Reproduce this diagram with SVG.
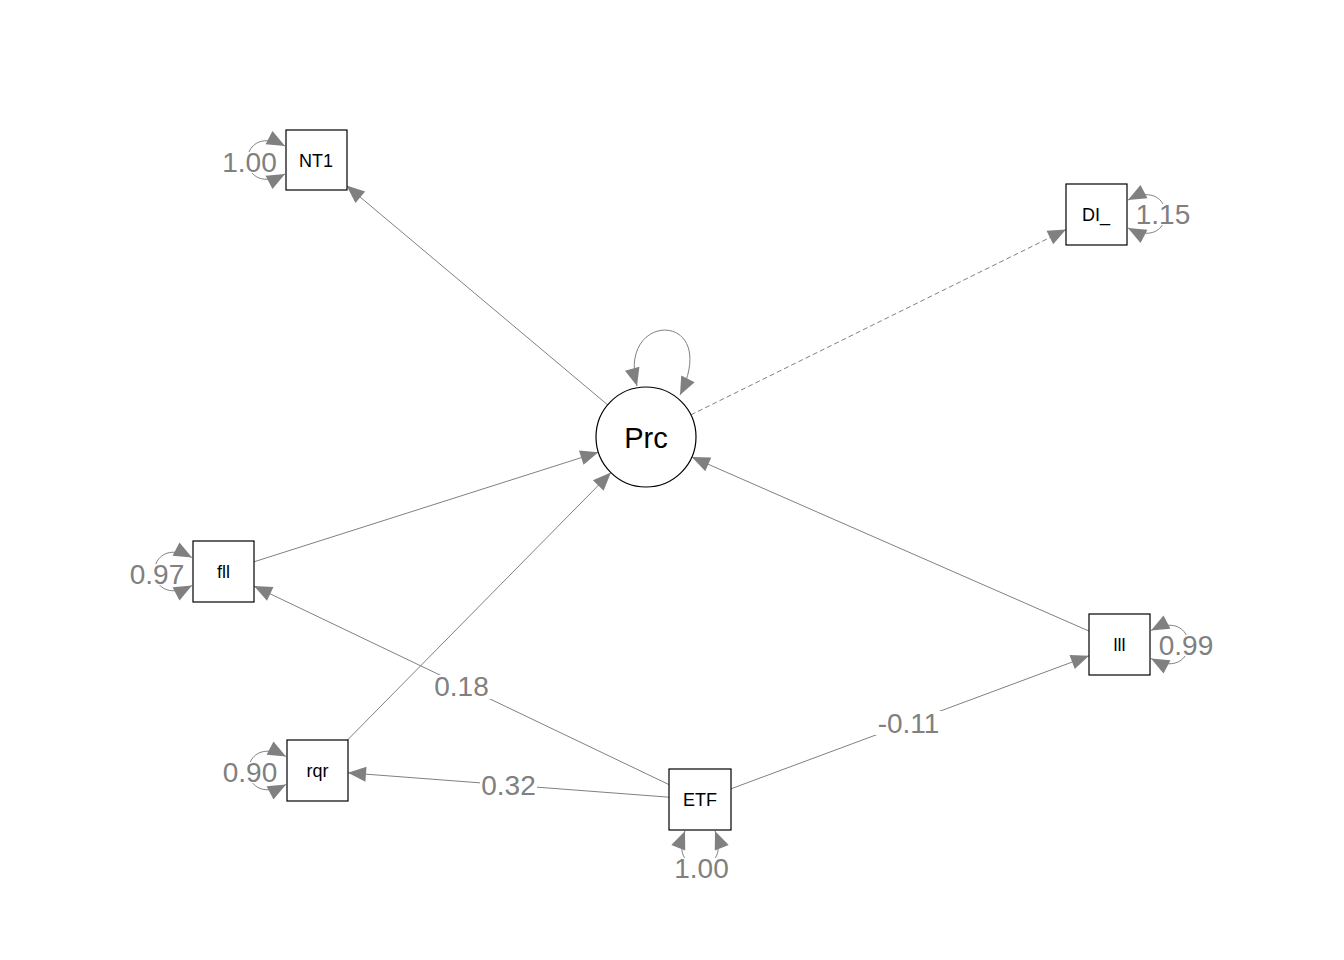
<svg xmlns="http://www.w3.org/2000/svg" width="1344" height="960" viewBox="0 0 1344 960">
<style>
.e{fill:none;stroke:#808080;stroke-width:1;marker-end:url(#ah)}
.d{stroke-dasharray:5,3}
.lp{fill:none;stroke:#808080;stroke-width:1;marker-start:url(#ah);marker-end:url(#ah)}
.box{fill:#fff;stroke:#000;stroke-width:1.2}
.nt{font-family:"Liberation Sans",Arial,sans-serif;font-size:18px;fill:#000;text-anchor:middle}
.lt{font-family:"Liberation Sans",Arial,sans-serif;font-size:28px;fill:#808080;text-anchor:middle}
.bg{fill:#fff}
</style>
<defs>
<marker id="ah" markerUnits="userSpaceOnUse" markerWidth="18" markerHeight="16" viewBox="-18 -8 18 16" refX="0" refY="0" orient="auto-start-reverse" overflow="visible">
<path d="M0,0 L-18,-7.5 L-18,7.5 Z" fill="#808080"/>
</marker>
</defs>
<rect width="1344" height="960" fill="#fff"/>
<g id="connectors">
<line class="e" x1="607.7" y1="404.9" x2="346.5" y2="185.6"/>
<line class="e d" x1="690.8" y1="414.9" x2="1066" y2="229.6"/>
<line class="e" x1="254" y1="561.8" x2="598.4" y2="452.2"/>
<line class="e" x1="347.5" y1="740" x2="610.9" y2="472.6"/>
<line class="e" x1="1089" y1="631.1" x2="691.8" y2="457.1"/>
<line class="e" x1="669" y1="784.6" x2="254" y2="586.1"/>
<line class="e" x1="669" y1="797.2" x2="348" y2="772.8"/>
<line class="e" x1="731" y1="788.8" x2="1089" y2="655.8"/>
<path class="lp" d="M637,386 C616,310 722,310 680,395"/>
<path class="lp" d="M285,146 C235,120 235,200 285,174"/>
<path class="lp" d="M1128,200 C1178,174 1178,254 1128,228"/>
<path class="lp" d="M1151,630.5 C1201,604.5 1201,684.5 1151,658.5"/>
<path class="lp" d="M192,557.5 C142,531.5 142,611.5 192,585.5"/>
<path class="lp" d="M286,756.5 C236,730.5 236,810.5 286,784.5"/>
<path class="lp" d="M685,831 C666,878 734,878 715,831"/>
</g>
<g id="labels">
<rect class="bg" x="433" y="675" width="58" height="24"/>
<text class="lt" x="461.5" y="696">0.18</text>
<rect class="bg" x="480" y="775" width="57" height="22"/>
<text class="lt" x="508.5" y="795">0.32</text>
<rect class="bg" x="875" y="711" width="67" height="24"/>
<text class="lt" x="908.5" y="733">-0.11</text>
<rect class="bg" x="222" y="152" width="55" height="21"/>
<text class="lt" x="249.5" y="172">1.00</text>
<rect class="bg" x="1136" y="204" width="55" height="21"/>
<text class="lt" x="1163" y="224">1.15</text>
<rect class="bg" x="1159" y="635" width="55" height="21"/>
<text class="lt" x="1186" y="655">0.99</text>
<rect class="bg" x="130" y="564" width="55" height="21"/>
<text class="lt" x="157" y="584">0.97</text>
<rect class="bg" x="223" y="762" width="55" height="21"/>
<text class="lt" x="250" y="782">0.90</text>
<rect class="bg" x="675" y="858" width="54" height="21"/>
<text class="lt" x="701.5" y="878">1.00</text>
</g>
<g id="Prc">
<circle cx="646" cy="437" r="50" fill="#fff" stroke="#000" stroke-width="1.2"/>
<text x="646" y="448" font-family="Liberation Sans, Arial, sans-serif" font-size="29" text-anchor="middle" fill="#000">Prc</text>
</g>
<g id="NT1">
<rect class="box" x="286" y="130" width="61" height="60"/>
<text class="nt" x="316" y="167">NT1</text>
</g>
<g id="DI_">
<rect class="box" x="1066" y="184" width="61" height="61"/>
<text class="nt" x="1096" y="221">DI_</text>
</g>
<g id="fll">
<rect class="box" x="193" y="541" width="61" height="61"/>
<text class="nt" x="223.5" y="578">fll</text>
</g>
<g id="lll">
<rect class="box" x="1089" y="614" width="61" height="61"/>
<text class="nt" x="1119.5" y="651">lll</text>
</g>
<g id="rqr">
<rect class="box" x="287" y="740" width="61" height="61"/>
<text class="nt" x="317.5" y="777">rqr</text>
</g>
<g id="ETF">
<rect class="box" x="669" y="769" width="62" height="61"/>
<text class="nt" x="700" y="806">ETF</text>
</g>
</svg>
